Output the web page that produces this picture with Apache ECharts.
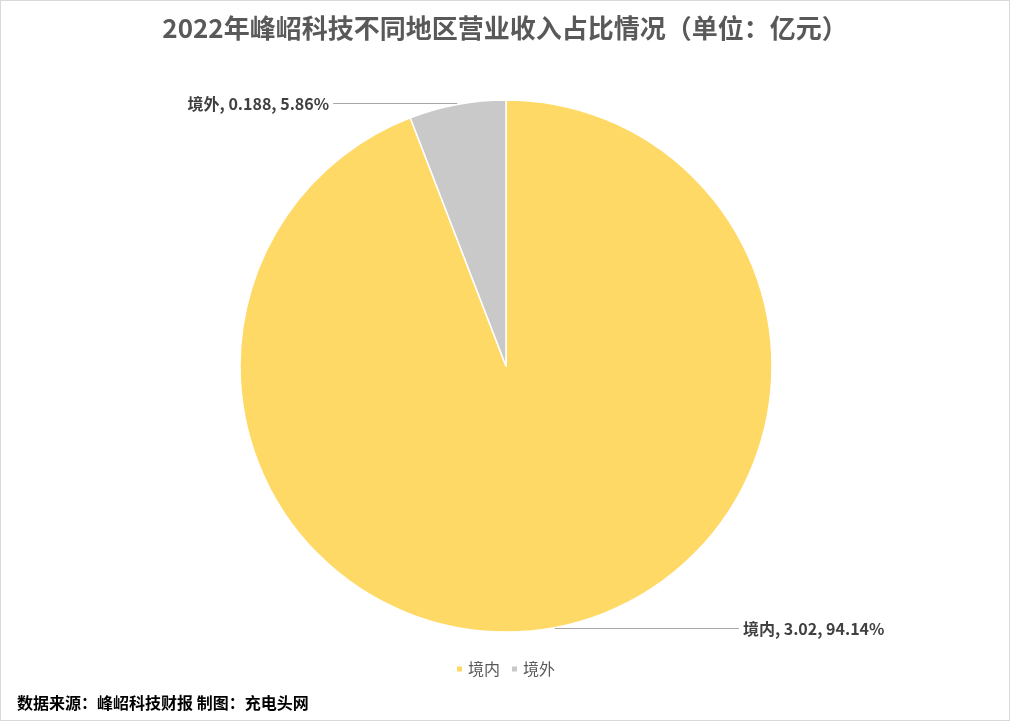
<!DOCTYPE html>
<html><head><meta charset="utf-8">
<script src="https://cdn.jsdelivr.net/npm/echarts@6/dist/echarts.min.js"></script>
<style>html,body{margin:0;padding:0;background:#fff}#c{width:1008px;height:719px;border:1px solid #d9d9d9}</style>
</head><body><div id="c"></div>
<script>
const categories = ['境内', '境外'];
const values = [3.02, 0.188];
const colors = ['#FFD966', '#C9C9C9'];
const titleText = '2022年峰岹科技不同地区营业收入占比情况（单位：亿元）';
const sourceText = '数据来源：峰岹科技财报 制图：充电头网';

const font = '"Noto Sans CJK SC", "Noto Sans", sans-serif';
const chart = echarts.init(document.getElementById('c'));
chart.setOption({
  backgroundColor: '#fff',
  title: {
    text: titleText, left: 'center', top: 9,
    textStyle: { fontFamily: font, fontSize: 26, fontWeight: 'bold', color: '#595959' }
  },
  legend: {
    bottom: 38, left: 'center', icon: 'rect', itemWidth: 7, itemHeight: 7, itemGap: 10,
    textStyle: { fontFamily: font, fontSize: 16, color: '#595959' },
    data: categories
  },
  graphic: [{
    type: 'text', left: 16, top: 694,
    style: { text: sourceText, font: 'bold 16px ' + font, fill: '#000' }
  }],
  series: [{
    type: 'pie',
    center: [505, 365],
    radius: [0, 266],
    startAngle: 90,
    clockwise: true,
    avoidLabelOverlap: false,
    itemStyle: { borderColor: '#fff', borderWidth: 1.5 },
    label: {
      formatter: '{b}, {c}, {d}%',
      fontFamily: font, fontSize: 16, fontWeight: 'bold', color: '#404040',
      distanceToLabelLine: 4
    },
    labelLine: { length: 1, length2: 120, smooth: false, lineStyle: { color: '#a6a6a6', width: 1 } },
    emphasis: { disabled: true },
    data: categories.map((n, i) => ({
      name: n, value: values[i], itemStyle: { color: colors[i] },
      labelLine: { length: 1, length2: i === 0 ? 184 : 124 }
    }))
  }],
  animation: false
});
</script></body></html>
